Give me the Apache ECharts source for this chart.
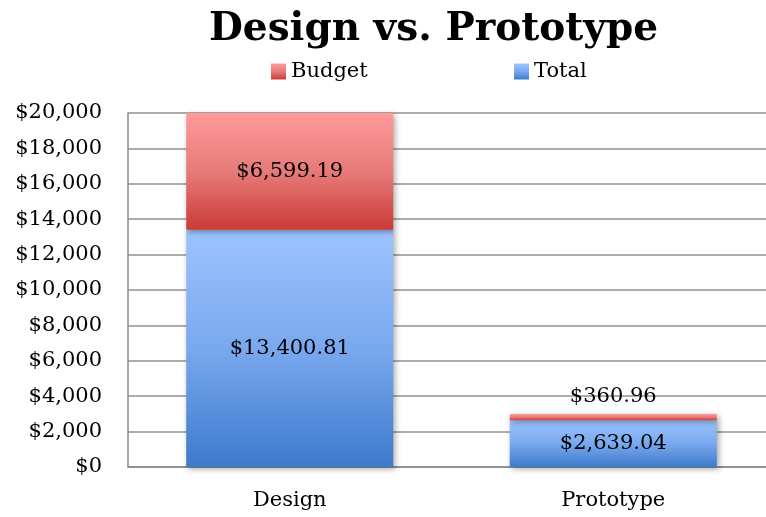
<!DOCTYPE html>
<html><head><meta charset="utf-8">
<script src="https://cdn.jsdelivr.net/npm/echarts@6/dist/echarts.min.js"></script>
<style>html,body{margin:0;padding:0;background:#fff}#c{width:766px;height:517px}</style>
</head><body><div id="c"></div>
<script>
const categories = ['Design', 'Prototype'];
const totalValues = [13400.81, 2639.04];
const budgetValues = [6599.19, 360.96];
const yTicks = [0, 2000, 4000, 6000, 8000, 10000, 12000, 14000, 16000, 18000, 20000];

const FONT = '"DejaVu Serif", "Liberation Serif", serif';
const FS = 21;
const fmt = v => '$' + v.toLocaleString('en-US', {minimumFractionDigits: 2, maximumFractionDigits: 2});
const fmtAxis = v => '$' + Math.round(v).toLocaleString('en-US');

const blueGrad = new echarts.graphic.LinearGradient(0, 0, 0, 1, [
  {offset: 0, color: '#9dc4ff'}, {offset: 0.5, color: '#79a8ee'}, {offset: 1, color: '#3d7acb'}]);
const redGrad = new echarts.graphic.LinearGradient(0, 0, 0, 1, [
  {offset: 0, color: '#ff9a9a'}, {offset: 0.5, color: '#e67b79'}, {offset: 1, color: '#cc3b37'}]);

const chart = echarts.init(document.getElementById('c'));
chart.setOption({
  animation: false,
  title: {
    text: 'Design vs. Prototype', left: 204, top: 5,
    textStyle: {fontFamily: FONT, fontSize: 39, fontWeight: 'bold', color: '#000'}
  },
  legend: [
    {data: ['Budget'], top: 56, left: 266, itemWidth: 15, itemHeight: 16, icon: 'rect',
     textStyle: {fontFamily: FONT, fontSize: FS, color: '#000'}},
    {data: ['Total'], top: 56, left: 509, itemWidth: 15, itemHeight: 16, icon: 'rect',
     textStyle: {fontFamily: FONT, fontSize: FS, color: '#000'}}
  ],
  grid: {left: 128, width: 647, top: 113, bottom: 50, outerBoundsMode: 'none', containLabel: false},
  xAxis: {
    type: 'category', data: categories,
    axisLine: {lineStyle: {color: '#888', width: 1.5}},
    axisTick: {show: false},
    axisLabel: {fontFamily: FONT, fontSize: FS, color: '#000', margin: 23}
  },
  yAxis: {
    type: 'value', min: 0, max: 20000, interval: 2000,
    axisLine: {show: true, lineStyle: {color: '#888', width: 1.5}},
    axisTick: {show: false},
    splitLine: {lineStyle: {color: '#909090', width: 1.5}},
    axisLabel: {fontFamily: FONT, fontSize: FS, color: '#000', margin: 26, formatter: fmtAxis}
  },
  series: [
    {
      name: 'Total', type: 'bar', stack: 's', data: totalValues, barWidth: '64%',
      itemStyle: {color: blueGrad, shadowColor: 'rgba(0,0,0,0.35)', shadowBlur: 6, shadowOffsetX: 2, shadowOffsetY: 2},
      label: {show: true, position: 'inside', formatter: p => fmt(p.value),
        fontFamily: FONT, fontSize: FS, color: '#000'}
    },
    {
      name: 'Budget', type: 'bar', stack: 's', barWidth: '64%',
      data: budgetValues.map((v, i) => ({
        value: v,
        label: i === 1 ? {position: 'top', distance: 7} : {position: 'inside'}
      })),
      itemStyle: {color: redGrad, shadowColor: 'rgba(0,0,0,0.35)', shadowBlur: 6, shadowOffsetX: 2, shadowOffsetY: 2},
      label: {show: true, formatter: p => fmt(p.value),
        fontFamily: FONT, fontSize: FS, color: '#000'}
    }
  ]
});
</script></body></html>
